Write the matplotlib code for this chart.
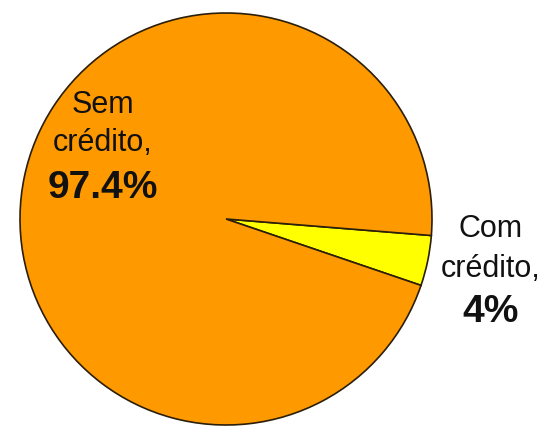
import matplotlib
matplotlib.use("Agg")
import matplotlib.pyplot as plt

# dados do gráfico
categorias = ["Com\ncrédito,", "Sem\ncrédito,"]
valores = [4, 97.4]
cores = ["#FFFF00", "#FF9900"]

plt.rcParams["font.family"] = ["Liberation Sans", "DejaVu Sans"]

fig = plt.figure(figsize=(5.54, 4.26), dpi=100)
ax = fig.add_axes([0, 0, 1, 1])

# pizza em coordenadas de pixel (y para cima)
ax.pie(valores, colors=cores, startangle=-18.8, counterclock=True,
       center=(226, 426 - 219), radius=206, frame=True,
       wedgeprops=dict(edgecolor="#2b1e0a", linewidth=1.2))
ax.set_xlim(0, 554)
ax.set_ylim(0, 426)
ax.axis("off")

# posições dos rótulos (x centro, linhas de base)
pos = [(491, [237, 277, 322]), (103, [113, 151, 198])]
for cat, val, (x, bases) in zip(categorias, valores, pos):
    linhas = cat.split("\n")
    for txt, b in zip(linhas, bases[:2]):
        ax.text(x, 426 - b, txt, ha="center", va="baseline",
                fontsize=22, color="#111111")
    ax.text(x, 426 - bases[2], f"{val:g}%", ha="center", va="baseline",
            fontsize=28, fontweight="bold", color="#111111")

fig.savefig("out.png", dpi=100)
